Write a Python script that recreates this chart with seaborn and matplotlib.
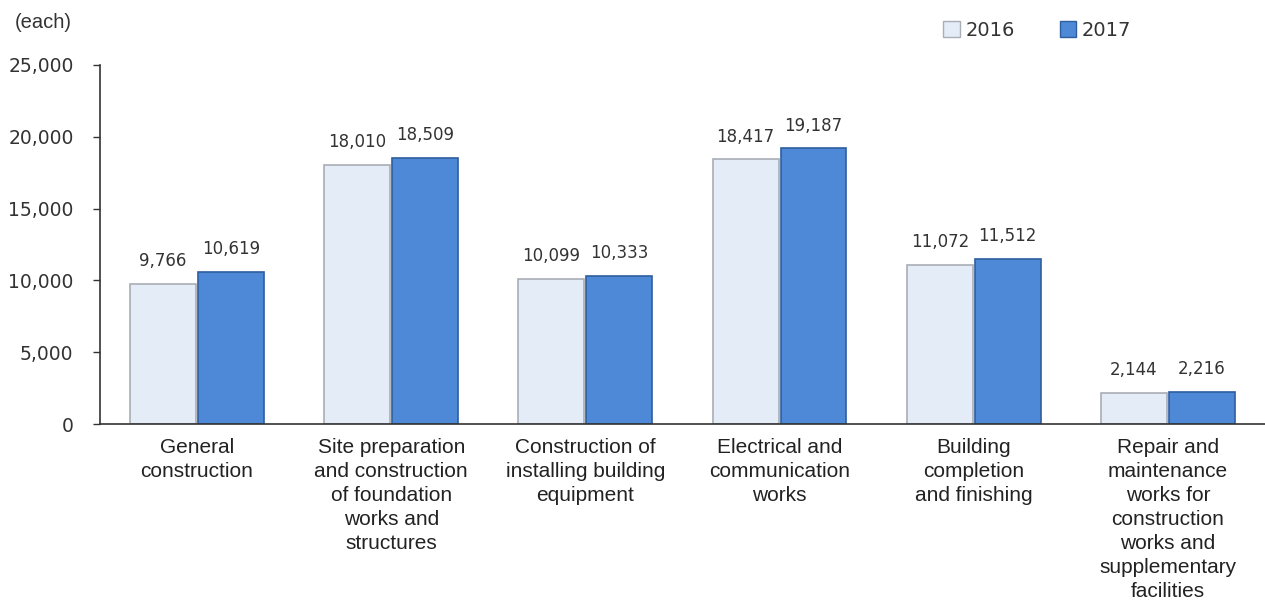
import matplotlib
matplotlib.use("Agg")
import matplotlib.pyplot as plt
import seaborn as sns
import pandas as pd
from matplotlib.patches import Patch

categories = [
    "General\nconstruction",
    "Site preparation\nand construction\nof foundation\nworks and\nstructures",
    "Construction of\ninstalling building\nequipment",
    "Electrical and\ncommunication\nworks",
    "Building\ncompletion\nand finishing",
    "Repair and\nmaintenance\nworks for\nconstruction\nworks and\nsupplementary\nfacilities",
]
years = ["2016", "2017"]
values_2016 = [9766, 18010, 10099, 18417, 11072, 2144]
values_2017 = [10619, 18509, 10333, 19187, 11512, 2216]
y_ticks = [0, 5000, 10000, 15000, 20000, 25000]

df = pd.DataFrame({
    "category": categories * 2,
    "year": [years[0]] * len(categories) + [years[1]] * len(categories),
    "value": values_2016 + values_2017,
})

sns.set_theme(style="white")
plt.rcParams['font.family'] = ['DejaVu Sans']

fig = plt.figure(figsize=(12.65, 6.06), dpi=100)
ax = fig.add_axes([0.079, 0.300, 0.921, 0.593])

palette = {"2016": "#E4ECF7", "2017": "#4D89D6"}
sns.barplot(data=df, x="category", y="value", hue="year", palette=palette,
            width=0.7, gap=0.03, ax=ax, legend=False, saturation=1)

edges = {"2016": "#A9AEB5", "2017": "#2E5E9E"}
for container, yr in zip(ax.containers, years):
    for bar in container:
        bar.set_edgecolor(edges[yr])
        bar.set_linewidth(1.2)
    ax.bar_label(container, labels=[f"{v:,.0f}" for v in container.datavalues],
                 padding=10, fontsize=12, color="#333333")

ax.set_ylim(0, 25000)
ax.set_xlim(-0.5, len(categories) - 0.5)
ax.set_yticks(y_ticks)
ax.set_yticklabels([f"{t:,}" for t in y_ticks], fontsize=13.5, color="#333333")
ax.tick_params(axis="y", which="both", left=True, length=5, width=1, color="#333333", pad=14)
ax.tick_params(axis="x", length=0, pad=10)
for lbl in ax.get_xticklabels():
    lbl.set_fontfamily(["Liberation Sans", "DejaVu Sans"])
    lbl.set_fontsize(15)
    lbl.set_color("#222222")
    lbl.set_linespacing(1.33)
ax.set_xlabel("")
ax.set_ylabel("")
for s in ["top", "right"]:
    ax.spines[s].set_visible(False)
ax.spines["left"].set_color("#333333")
ax.spines["bottom"].set_color("#333333")
ax.spines["left"].set_linewidth(1.2)
ax.spines["bottom"].set_linewidth(1.2)

fig.text(0.012, 0.963, "(each)", fontsize=14.5, family=["Liberation Sans", "DejaVu Sans"],
         color="#333333", va="center", ha="left")

handles = [Patch(facecolor=palette[y], edgecolor=edges[y], label=y) for y in years]
fig.legend(handles=handles, loc="center", bbox_to_anchor=(0.82, 0.950), ncol=2,
           frameon=False, fontsize=14, handlelength=0.85, handleheight=0.85,
           handletextpad=0.3, columnspacing=2.3)
for t in fig.legends[0].get_texts():
    t.set_color("#333333")

fig.savefig("out.png", dpi=100)
